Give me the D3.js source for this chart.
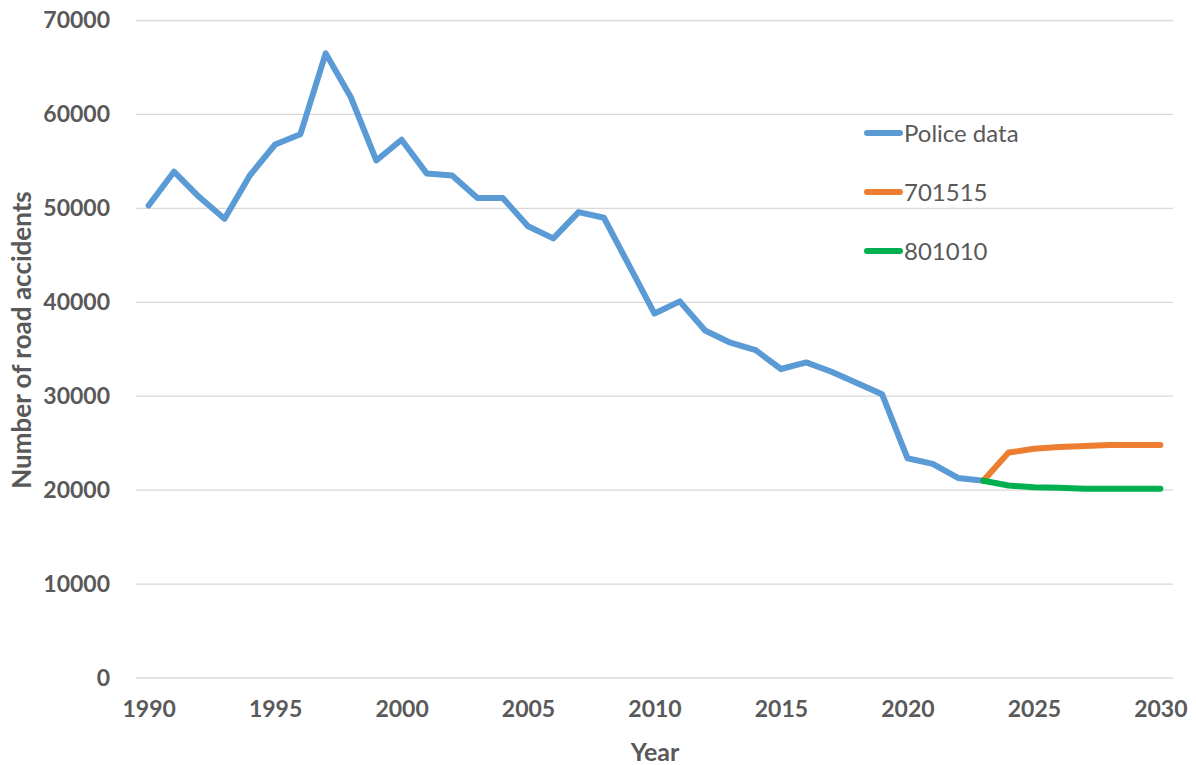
<!DOCTYPE html>
<html><head><meta charset="utf-8">
<script src="https://cdn.jsdelivr.net/npm/d3@7"></script>
<style>body{margin:0;background:#fff;} svg{display:block;}</style>
</head><body>
<svg id="c" width="1196" height="765"></svg>
<script>
const policeYears = d3.range(1990, 2024);
const policeValues = [50300,53900,51200,48900,53500,56800,57900,66500,61800,55100,57300,53700,53500,51100,51100,48100,46800,49600,49000,43900,38800,40100,37000,35700,34900,32900,33600,32600,31400,30200,23400,22800,21300,21000];
const projYears = [2023,2024,2025,2026,2027,2028,2029,2030];
const s701515 = [21000,24000,24400,24600,24700,24800,24800,24800];
const s801010 = [21000,20500,20300,20250,20150,20150,20150,20150];
const allYears = d3.range(1990, 2031);
const xTickYears = [1990,1995,2000,2005,2010,2015,2020,2025,2030];
const yTicks = [0,10000,20000,30000,40000,50000,60000,70000];
const seriesNames = ["Police data","701515","801010"];
const colors = ["#5B9BD5","#ED7D31","#00B050"];

(function(){
const svg = d3.select("#c");
const mLeft = 136, mRight = 1173, mTop = 20.5, mBottom = 678;
const x = d3.scalePoint().domain(allYears).range([mLeft, mRight]).padding(0.5);
const y = d3.scaleLinear().domain([0,70000]).range([mBottom, mTop]);
const font = "Lato, 'Open Sans', sans-serif";
const txt = "#595959";

svg.append("g").selectAll("line").data(yTicks).join("line")
  .attr("x1", mLeft).attr("x2", mRight)
  .attr("y1", d => y(d)).attr("y2", d => y(d))
  .attr("stroke", "#d9d9d9").attr("stroke-width", 1.3);

const ya = svg.append("g").attr("transform", `translate(${mLeft},0)`)
  .call(d3.axisLeft(y).tickValues(yTicks).tickSize(0).tickPadding(26).tickFormat(d3.format("d")));
ya.select(".domain").remove();
ya.selectAll("text").attr("font-family", font).attr("font-weight", "bold")
  .attr("font-size", 23).attr("fill", txt);

const xa = svg.append("g").attr("transform", `translate(0,${mBottom})`)
  .call(d3.axisBottom(x).tickValues(xTickYears).tickSize(0).tickPadding(23));
xa.select(".domain").remove();
xa.selectAll("text").attr("font-family", font).attr("font-weight", "bold")
  .attr("font-size", 23).attr("fill", txt);

svg.append("text").attr("x", 655).attr("y", 761).attr("text-anchor", "middle")
  .attr("font-family", font).attr("font-weight", "bold").attr("font-size", 25).attr("fill", txt).text("Year");
svg.append("text").attr("transform", "translate(31,340) rotate(-90)").attr("text-anchor", "middle")
  .attr("font-family", font).attr("font-weight", "bold").attr("font-size", 26).attr("fill", txt).text("Number of road accidents");

const line = d3.line().x(d => x(d[0])).y(d => y(d[1]));
const data = [
  d3.zip(policeYears, policeValues),
  d3.zip(projYears, s701515),
  d3.zip(projYears, s801010)
];
[0,1,2].forEach(i => {
  svg.append("path").datum(data[i]).attr("d", line)
    .attr("fill", "none").attr("stroke", colors[i]).attr("stroke-width", 6)
    .attr("stroke-linejoin", "round").attr("stroke-linecap", "round");
});

const lg = svg.append("g");
seriesNames.forEach((n, i) => {
  const ly = 133 + i * 59;
  lg.append("line").attr("x1", 867).attr("x2", 900).attr("y1", ly).attr("y2", ly)
    .attr("stroke", colors[i]).attr("stroke-width", 6).attr("stroke-linecap", "round");
  lg.append("text").attr("x", 904).attr("y", ly).attr("dy", "0.36em")
    .attr("font-family", font).attr("font-size", 24).attr("fill", txt).text(n);
});
})();
</script>
</body></html>
